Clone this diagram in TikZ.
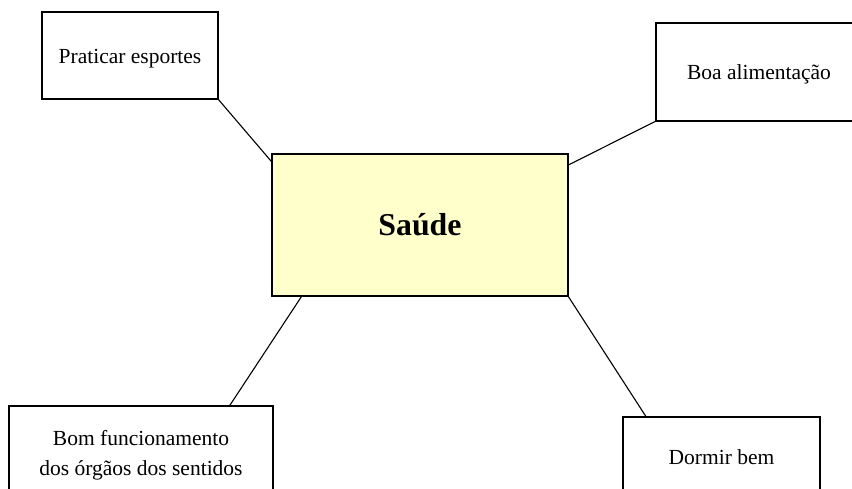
\documentclass[tikz,border=0pt]{standalone}
\usepackage{fontspec}
\setmainfont{Liberation Serif}
\definecolor{paleyellow}{HTML}{FFFFCC}
\tikzset{
  topic/.style={draw=black, line width=0.65pt, fill=white, inner sep=0pt, outer sep=0pt,
    align=center, font=\fontsize{10.75}{15}\selectfont},
  hub/.style={topic, fill=paleyellow, font=\fontsize{15.9}{18}\selectfont\bfseries},
  link/.style={draw=black, line width=0.55pt}
}
% lower a label slightly without changing its reported size
\newcommand{\lowered}[2]{\raisebox{-#1}[\height][\depth]{#2}}
\begin{document}
\begin{tikzpicture}[x=0.5pt, y=-0.5pt]
\useasboundingbox (0,0) rectangle (852,488);
\clip (0,0) rectangle (852,488);
% central theme
\node[hub, minimum width=148pt, minimum height=71pt] (saude) at (420,225) {Saúde};
% surrounding topics
\node[topic, minimum width=88pt, minimum height=43.5pt] (prat) at (130,55.5) {\lowered{1.5pt}{Praticar esportes}};
\node[topic, minimum width=103pt, minimum height=49pt] (boa) at (759,72) {\lowered{1.25pt}{Boa alimentação}};
\node[topic, minimum width=132pt, minimum height=49pt] (bom) at (141,455) {Bom funcionamento\\dos órgãos dos sentidos};
\node[topic, minimum width=98.5pt, minimum height=40pt] (dorm) at (721.5,457) {Dormir bem};
% connectors
\draw[link] (prat.south east) -- (saude.157.6);
\draw[link] (boa.south west) -- (saude.22.1);
\draw[link] (bom.29.1) -- (saude.211.5);
\draw[link] (dorm.152.4) -- (saude.south east);
\end{tikzpicture}
\end{document}
